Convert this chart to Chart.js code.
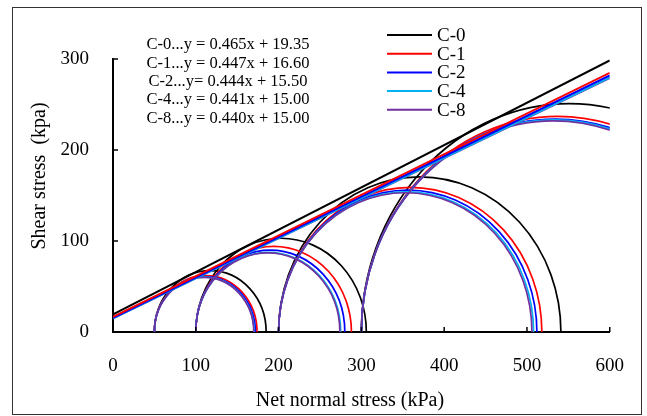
<!DOCTYPE html>
<html>
<head>
<meta charset="utf-8">
<script src="https://cdn.jsdelivr.net/npm/chart.js@4.4.1/dist/chart.umd.min.js"></script>
<style>
  html, body { margin: 0; padding: 0; background: #fff; }
  #wrap { width: 647px; height: 416px; }
</style>
</head>
<body>
<div id="wrap"><canvas id="mohrChart" width="647" height="416"></canvas></div>
<script>
// Séries (amostras) e cores
const series = ['C-0', 'C-1', 'C-2', 'C-4', 'C-8'];
const colors = ['#000000', '#ff0000', '#0000ff', '#00b0f0', '#7030a0'];

// Tensão de confinamento (início de cada círculo) - kPa
const sigma3 = [50, 100, 200, 300];

// Tensão principal maior (fim de cada círculo)
const sigma1C0 = [185, 306, 541, 802];
const sigma1C1 = [174, 288, 518, 774];
const sigma1C2 = [172, 280, 512, 768];
const sigma1C4 = [170.5, 275, 508, 766];
const sigma1C8 = [170, 274, 506, 764];
const sigma1 = [sigma1C0, sigma1C1, sigma1C2, sigma1C4, sigma1C8];

// Envoltórias: valor em x = 0 e em x = 600
const envStart = [19.35, 16.60, 15.50, 15.00, 15.00];
const envEnd = [298.35, 284.80, 281.90, 279.60, 279.00];

// Equações mostradas no gráfico
const equations = [
    'C-0...y = 0.465x + 19.35',
    'C-1...y = 0.447x + 16.60',
    'C-2...y= 0.444x + 15.50',
    'C-4...y = 0.441x + 15.00',
    'C-8...y = 0.440x + 15.00'
];

// Ticks e títulos dos eixos
const xTicks = [0, 100, 200, 300, 400, 500, 600];
const yTicks = [0, 100, 200, 300];
const xTitle = 'Net normal stress (kPa)';
const yTitle = 'Shear stress  (kpa)';

const serif = "'Liberation Serif', 'Times New Roman', serif";

// Círculos de Mohr (semicírculos) desenhados pelas escalas do gráfico
const mohrCircles = {
    id: 'mohrCircles',
    beforeDatasetsDraw(chart) {
        const { ctx, chartArea, scales: { x, y } } = chart;
        ctx.save();
        ctx.beginPath();
        ctx.rect(chartArea.left, chartArea.top, chartArea.right - chartArea.left, chartArea.bottom - chartArea.top);
        ctx.clip();
        sigma1.forEach((s1list, i) => {
            ctx.strokeStyle = colors[i];
            ctx.lineWidth = 1.7;
            s1list.forEach((s1, k) => {
                const s3 = sigma3[k];
                const c = (s1 + s3) / 2;
                const r = (s1 - s3) / 2;
                const cx = x.getPixelForValue(c);
                const cy = y.getPixelForValue(0);
                const rx = Math.abs(x.getPixelForValue(s1) - x.getPixelForValue(s3)) / 2;
                const ry = Math.abs(y.getPixelForValue(0) - y.getPixelForValue(r));
                ctx.beginPath();
                ctx.ellipse(cx, cy, rx, ry, 0, Math.PI, 2 * Math.PI);
                ctx.stroke();
            });
        });
        ctx.restore();
    }
};

// Moldura, ticks internos, títulos, legenda e equações
const extras = {
    id: 'extras',
    afterDraw(chart) {
        const { ctx, chartArea, scales: { x, y } } = chart;
        ctx.save();

        // moldura externa
        ctx.strokeStyle = '#333';
        ctx.lineWidth = 1;
        ctx.strokeRect(12.5, 7.5, 629, 407);

        // ticks para dentro
        ctx.strokeStyle = '#000';
        ctx.lineWidth = 1.5;
        xTicks.slice(1).forEach(v => {
            const px = x.getPixelForValue(v);
            ctx.beginPath();
            ctx.moveTo(px, chartArea.bottom);
            ctx.lineTo(px, chartArea.bottom - 5);
            ctx.stroke();
        });
        yTicks.slice(1).forEach(v => {
            const py = y.getPixelForValue(v);
            ctx.beginPath();
            ctx.moveTo(chartArea.left, py);
            ctx.lineTo(chartArea.left + 5, py);
            ctx.stroke();
        });

        // títulos dos eixos
        ctx.fillStyle = '#000';
        ctx.font = '20px ' + serif;
        ctx.textAlign = 'center';
        ctx.textBaseline = 'middle';
        ctx.fillText(xTitle, 350, 401);
        ctx.save();
        ctx.translate(40, 176);
        ctx.rotate(-Math.PI / 2);
        ctx.fillText(yTitle, 0, 0);
        ctx.restore();

        // legenda
        ctx.font = '19px ' + serif;
        ctx.textAlign = 'left';
        chart.data.datasets.forEach((ds, i) => {
            const ly = 35 + i * 18.7;
            ctx.strokeStyle = ds.borderColor;
            ctx.lineWidth = 2;
            ctx.beginPath();
            ctx.moveTo(387, ly);
            ctx.lineTo(432, ly);
            ctx.stroke();
            ctx.fillStyle = '#000';
            ctx.fillText(ds.label, 437, ly + 1);
        });

        // equações
        ctx.font = '16.5px ' + serif;
        ctx.textAlign = 'center';
        equations.forEach((t, i) => {
            ctx.fillText(t, 228, 45 + i * 18.3);
        });

        ctx.restore();
    }
};

function initChart() {
    const ctx = document.getElementById('mohrChart').getContext('2d');

    const datasets = series.map((name, i) => ({
        label: name,
        data: [{ x: xTicks[0], y: envStart[i] }, { x: xTicks[xTicks.length - 1], y: envEnd[i] }],
        borderColor: colors[i],
        backgroundColor: colors[i],
        borderWidth: i === 0 ? 2.2 : 2,
        pointRadius: 0,
        fill: false,
        tension: 0
    }));

    new Chart(ctx, {
        type: 'line',
        data: { datasets: datasets },
        options: {
            responsive: false,
            animation: false,
            layout: { padding: { left: 0, right: 36, top: 59, bottom: 0 } },
            scales: {
                x: {
                    type: 'linear',
                    min: 0,
                    max: 600,
                    afterFit(scale) { scale.height = 84; },
                    afterBuildTicks(scale) { scale.ticks = xTicks.map(v => ({ value: v })); },
                    ticks: {
                        font: { family: serif, size: 19 },
                        color: '#000',
                        padding: 23,
                        maxRotation: 0
                    },
                    grid: { display: false, drawTicks: false },
                    border: { display: true, color: '#000', width: 2 }
                },
                y: {
                    type: 'linear',
                    min: 0,
                    max: 300,
                    afterFit(scale) { scale.width = 113; },
                    afterBuildTicks(scale) { scale.ticks = yTicks.map(v => ({ value: v })); },
                    ticks: {
                        font: { family: serif, size: 19 },
                        color: '#000',
                        padding: 24
                    },
                    grid: { display: false, drawTicks: false },
                    border: { display: true, color: '#000', width: 2 }
                }
            },
            plugins: {
                legend: { display: false },
                tooltip: { enabled: false }
            }
        },
        plugins: [mohrCircles, extras]
    });
}

document.addEventListener('DOMContentLoaded', initChart);
</script>
</body>
</html>
